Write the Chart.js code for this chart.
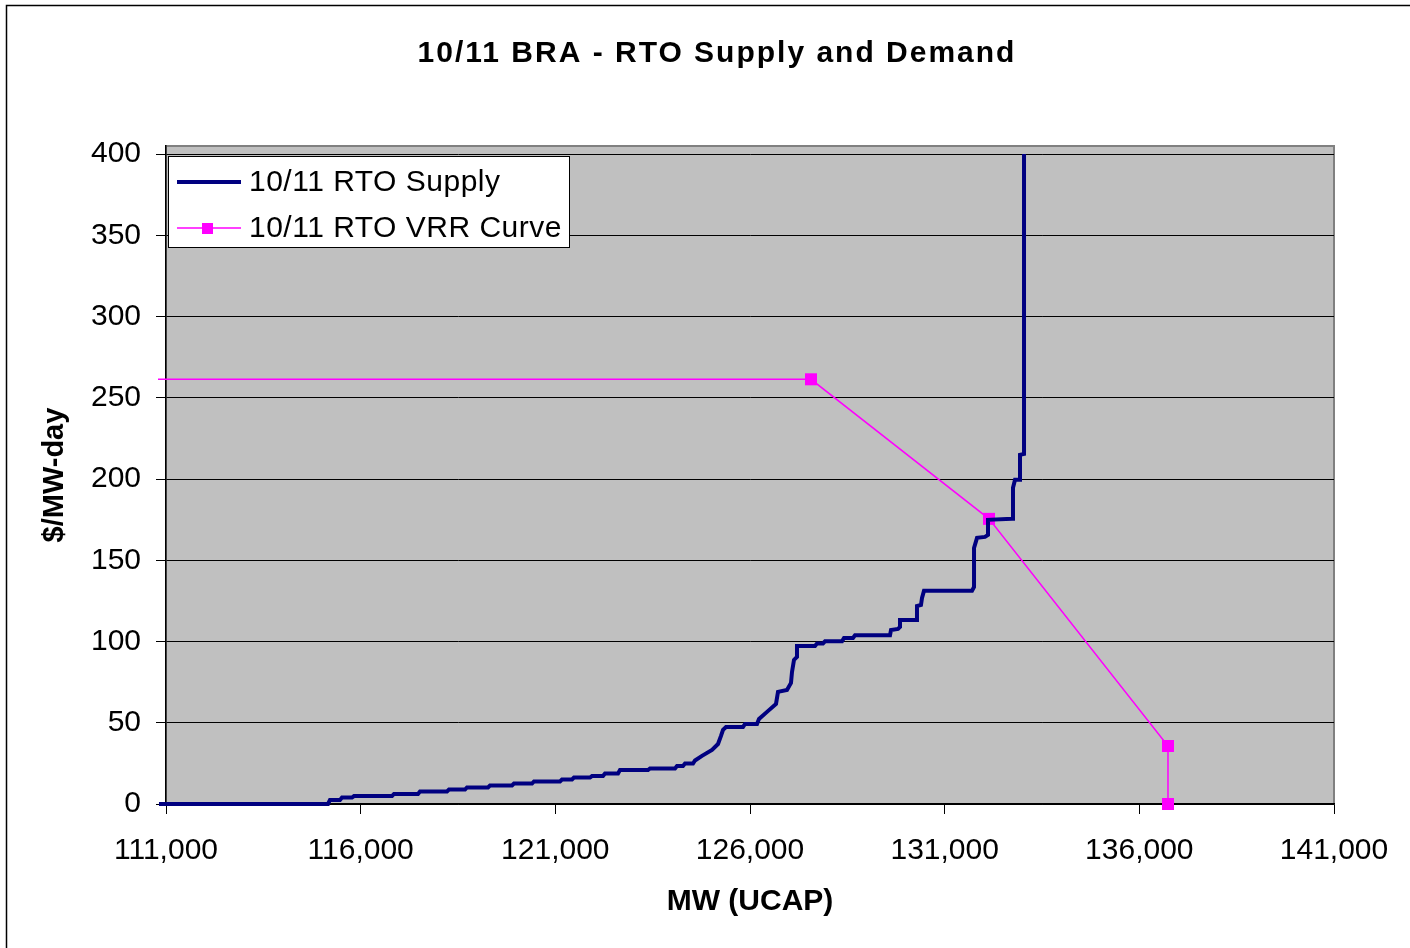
<!DOCTYPE html>
<html>
<head>
<meta charset="utf-8">
<script src="https://cdn.jsdelivr.net/npm/chart.js@4/dist/chart.umd.min.js"></script>
<style>
  html, body { margin:0; padding:0; background:#fff; }
  #wrap { width:1410px; height:948px; position:relative; }
</style>
</head>
<body>
<div id="wrap"><canvas id="chart" width="1410" height="948"></canvas></div>
<script>
// values
const chartTitle = '10/11 BRA - RTO Supply and Demand';
const xTickValues = [111000, 116000, 121000, 126000, 131000, 136000, 141000];
const yTickValues = [0, 50, 100, 150, 200, 250, 300, 350, 400];

const supplyLabel = '10/11 RTO Supply';
const supplyMW = [
  110820, 115161, 115212, 115469, 115521, 115777, 115829, 116805, 116856, 117473,
  117524, 118217, 118269, 118680, 118731, 119271, 119322, 119887, 119938, 120401,
  120452, 121120, 121171, 121428, 121479, 121890, 121942, 122224, 122276, 122610,
  122661, 123380, 123432, 124074, 124125, 124279, 124331, 124536, 124587, 124767,
  125024, 125178, 125255, 125307, 125384, 125820, 125872, 126180, 126231, 126437,
  126668, 126719, 126950, 127053, 127079, 127130, 127207, 127207, 127670, 127721,
  127875, 127927, 128363, 128415, 128646, 128697, 129596, 129622, 129802, 129853,
  129853, 130264, 130289, 130392, 130418, 130469, 131702, 131754, 131754, 131831,
  132036, 132113, 132113, 132730, 132755, 132807, 132935, 132935, 133038, 133038
];
const supplyPrice = [
  0, 0, 2.5, 2.5, 4.0, 4.0, 4.9, 4.9, 6.2, 6.2,
  7.7, 7.7, 8.9, 8.9, 10.2, 10.2, 11.4, 11.4, 12.6, 12.6,
  13.9, 13.9, 15.1, 15.1, 16.3, 16.3, 17.2, 17.2, 18.8, 18.8,
  20.9, 20.9, 21.9, 21.9, 23.4, 23.4, 24.9, 24.9, 26.8, 29.6,
  33.3, 36.9, 41.9, 45.6, 47.4, 47.4, 49.3, 49.3, 52.3, 56.7,
  61.6, 69.0, 70.2, 74.5, 81.3, 88.7, 90.5, 97.3, 97.3, 98.8,
  98.8, 100.1, 100.1, 102.2, 102.2, 103.8, 103.8, 107.1, 107.8, 109.0,
  113.3, 113.3, 121.9, 122.5, 126.8, 131.2, 131.2, 133.6, 157.6, 163.8,
  164.4, 165.6, 174.9, 175.5, 194.6, 199.5, 199.5, 214.9, 215.5, 400
];

const vrrLabel = '10/11 RTO VRR Curve';
const vrrMW = [110795, 127567, 132139, 136736, 136736];
const vrrPrice = [261.4, 261.4, 175.5, 35.7, 0];

const NAVY = '#000080';
const MAGENTA = '#FF00FF';
const FONT = '"Liberation Sans", Arial, sans-serif';

function toPoints(xs, ys) { return xs.map((x, i) => ({ x: x, y: ys[i] })); }

// plot-area background, outer frame, title and in-plot legend
const decor = {
  id: 'decor',
  beforeDraw(chart) {
    const c = chart.ctx, a = chart.chartArea;
    c.save();
    c.fillStyle = '#fff';
    c.fillRect(0, 0, chart.width, chart.height);
    c.fillStyle = '#C0C0C0';
    c.fillRect(a.left, a.top, a.right - a.left, a.bottom - a.top);
    c.strokeStyle = '#808080';
    c.lineWidth = 2;
    c.strokeRect(a.left, a.top, a.right - a.left, a.bottom - a.top);
    c.strokeStyle = '#000';
    c.lineWidth = 1.5;
    c.beginPath();
    c.moveTo(6.5, chart.height);
    c.lineTo(6.5, 5.5);
    c.lineTo(chart.width, 5.5);
    c.stroke();
    c.restore();
  },
  afterDraw(chart) {
    const c = chart.ctx;
    c.save();
    c.fillStyle = '#000';
    c.font = 'bold 30px ' + FONT;
    c.letterSpacing = '2px';
    c.textAlign = 'center';
    c.textBaseline = 'middle';
    c.fillText(chartTitle, 717, 54);

    // legend box
    c.fillStyle = '#fff';
    c.fillRect(168, 156, 401, 92);
    c.strokeStyle = '#000';
    c.lineWidth = 1;
    c.strokeRect(168.5, 156.5, 401, 91);
    c.font = '30px ' + FONT;
    c.letterSpacing = '0.5px';
    c.textAlign = 'left';
    const ds = chart.data.datasets;
    const rows = [182, 228];
    ds.forEach((d, i) => {
      const y = rows[i];
      c.strokeStyle = d.borderColor;
      c.lineWidth = d.borderWidth;
      c.beginPath();
      c.moveTo(177, y);
      c.lineTo(241, y);
      c.stroke();
      if (i === 1) {
        c.fillStyle = MAGENTA;
        c.fillRect(202, y - 5, 11, 11);
      }
      c.fillStyle = '#000';
      c.fillText(d.label, 249, y + 1);
    });
    c.restore();
  }
};

new Chart(document.getElementById('chart'), {
  type: 'line',
  data: {
    datasets: [
      {
        label: supplyLabel,
        data: toPoints(supplyMW, supplyPrice),
        borderColor: NAVY,
        borderWidth: 4,
        pointRadius: 0,
        tension: 0,
        clip: false,
        borderJoinStyle: 'miter'
      },
      {
        label: vrrLabel,
        data: toPoints(vrrMW, vrrPrice),
        borderColor: MAGENTA,
        backgroundColor: MAGENTA,
        borderWidth: 1.5,
        pointStyle: 'rect',
        pointRadius: ctx => (ctx.dataIndex === 0 ? 0 : 8.5),
        pointBorderWidth: 0,
        pointHoverRadius: 0,
        tension: 0,
        clip: false
      }
    ]
  },
  plugins: [decor],
  options: {
    responsive: false,
    animation: false,
    events: [],
    layout: { padding: { left: 30, top: 146, right: 76, bottom: 0 } },
    plugins: {
      legend: { display: false },
      title: { display: false },
      tooltip: { enabled: false }
    },
    scales: {
      x: {
        type: 'linear',
        min: 111000,
        max: 141000,
        afterBuildTicks: s => { s.ticks = xTickValues.map(v => ({ value: v })); },
        afterFit: s => { s.height = 144; },
        ticks: {
          color: '#000',
          font: { family: FONT, size: 30 },
          padding: 19,
          maxRotation: 0,
          callback: v => v.toLocaleString('en-US')
        },
        grid: { drawOnChartArea: false, drawTicks: true, tickLength: 10, color: '#000', lineWidth: 1 },
        border: { color: '#000', width: 1.5 },
        title: {
          display: true,
          text: 'MW (UCAP)',
          color: '#000',
          font: { family: FONT, size: 30, weight: 'bold' },
          padding: { top: 0, bottom: 28 }
        }
      },
      y: {
        type: 'linear',
        min: 0,
        max: 405,
        afterBuildTicks: s => { s.ticks = yTickValues.map(v => ({ value: v })); },
        afterFit: s => { s.width = 136; },
        ticks: {
          color: '#000',
          font: { family: FONT, size: 30 },
          padding: 15
        },
        grid: { color: '#000', lineWidth: 1, tickLength: 10, drawTicks: true },
        border: { color: '#000', width: 1.5 },
        title: {
          display: true,
          text: '$/MW-day',
          color: '#000',
          font: { family: FONT, size: 29, weight: 'bold' },
          padding: { top: 8, bottom: 0 }
        }
      }
    }
  }
});
</script>
</body>
</html>
